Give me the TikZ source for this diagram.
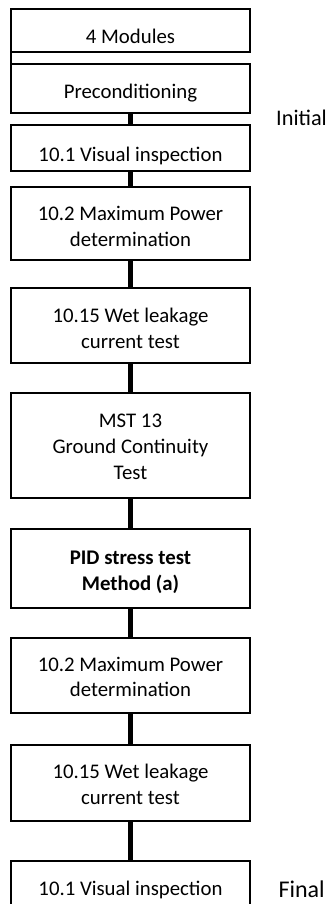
\documentclass[tikz,border=0pt]{standalone}
\usepackage{fontspec}
\setmainfont{Carlito}
\begin{document}
\begin{tikzpicture}[x=1pt,y=-1pt,
  stagebox/.style={draw=black, line width=2pt, rectangle, inner sep=0pt,
    outer sep=0pt, minimum width=239pt, fill=white},
  stagetext/.style={font=\fontsize{20.8}{25.7}\selectfont, align=center,
    inner sep=0pt, anchor=base},
  sidetext/.style={font=\fontsize{22.3}{27}\selectfont, inner sep=0pt,
    anchor=base west},
  link/.style={draw=black, line width=5.3pt},
  edge/.style={draw=black, line width=2pt}]
\useasboundingbox (0,0) rectangle (327,904);
\clip (0,0) rectangle (327,904);

% stage boxes
\node[stagebox, minimum height=43.3pt] (b1) at (130.5,30.65) {};
\node[stagebox, minimum height=49pt]   (b2) at (130.5,88.8) {};
\node[stagebox, minimum height=46pt]   (b3) at (130.5,148) {};
\node[stagebox, minimum height=73.3pt] (b4) at (130.5,223.35) {};
\node[stagebox, minimum height=74.4pt] (b5) at (130.5,325.5) {};
\node[stagebox, minimum height=105pt]  (b6) at (130.5,445.2) {};
\node[stagebox, minimum height=78.4pt] (b7) at (130.5,568.5) {};
\node[stagebox, minimum height=75.6pt] (b8) at (130.5,675.5) {};
\node[stagebox, minimum height=75.7pt] (b9) at (130.5,782.85) {};
\node[stagebox, minimum height=46pt]   (b10) at (130.5,883.7) {};

% connectors
\draw[edge] (b1.south west) -- (b2.north west);
\draw[link] (b2.south) -- (b3.north);
\draw[link] (b3.south) -- (b4.north);
\draw[link] (b4.south) -- (b5.north);
\draw[link] (b5.south) -- (b6.north);
\draw[link] (b6.south) -- (b7.north);
\draw[link] (b7.south) -- (b8.north);
\draw[link] (b8.south) -- (b9.north);
\draw[link] (b9.south) -- (b10.north);

% box labels, anchored on the baseline of their last line
\node[stagetext] (t1) at (130.5,43.3) {4 Modules};
\node[stagetext] (t2) at (130.5,99) {Preconditioning};
\node[stagetext] (t3) at (130.5,161.7) {10.1 Visual inspection};
\node[stagetext] (t4) at (130.5,246.5) {10.2 Maximum Power\\determination};
\node[stagetext] (t5) at (130.5,348.3) {10.15 Wet leakage\\current test};
\node[stagetext] (t6) at (130.5,479) {MST 13\\Ground Continuity\\Test};
\node[stagetext, font=\fontsize{20.8}{25.7}\selectfont\bfseries] (t7) at (130.5,590) {PID stress test\\Method (a)};
\node[stagetext] (t8) at (130.5,696.7) {10.2 Maximum Power\\determination};
\node[stagetext] (t9) at (130.5,804) {10.15 Wet leakage\\current test};
\node[stagetext] (t10) at (130.5,895.5) {10.1 Visual inspection};

% phase labels
\node[sidetext] (initial) at (276,125.7) {Initial};
\node[sidetext, font=\fontsize{24}{29}\selectfont] (final) at (278.3,897) {Final};
\end{tikzpicture}
\end{document}
